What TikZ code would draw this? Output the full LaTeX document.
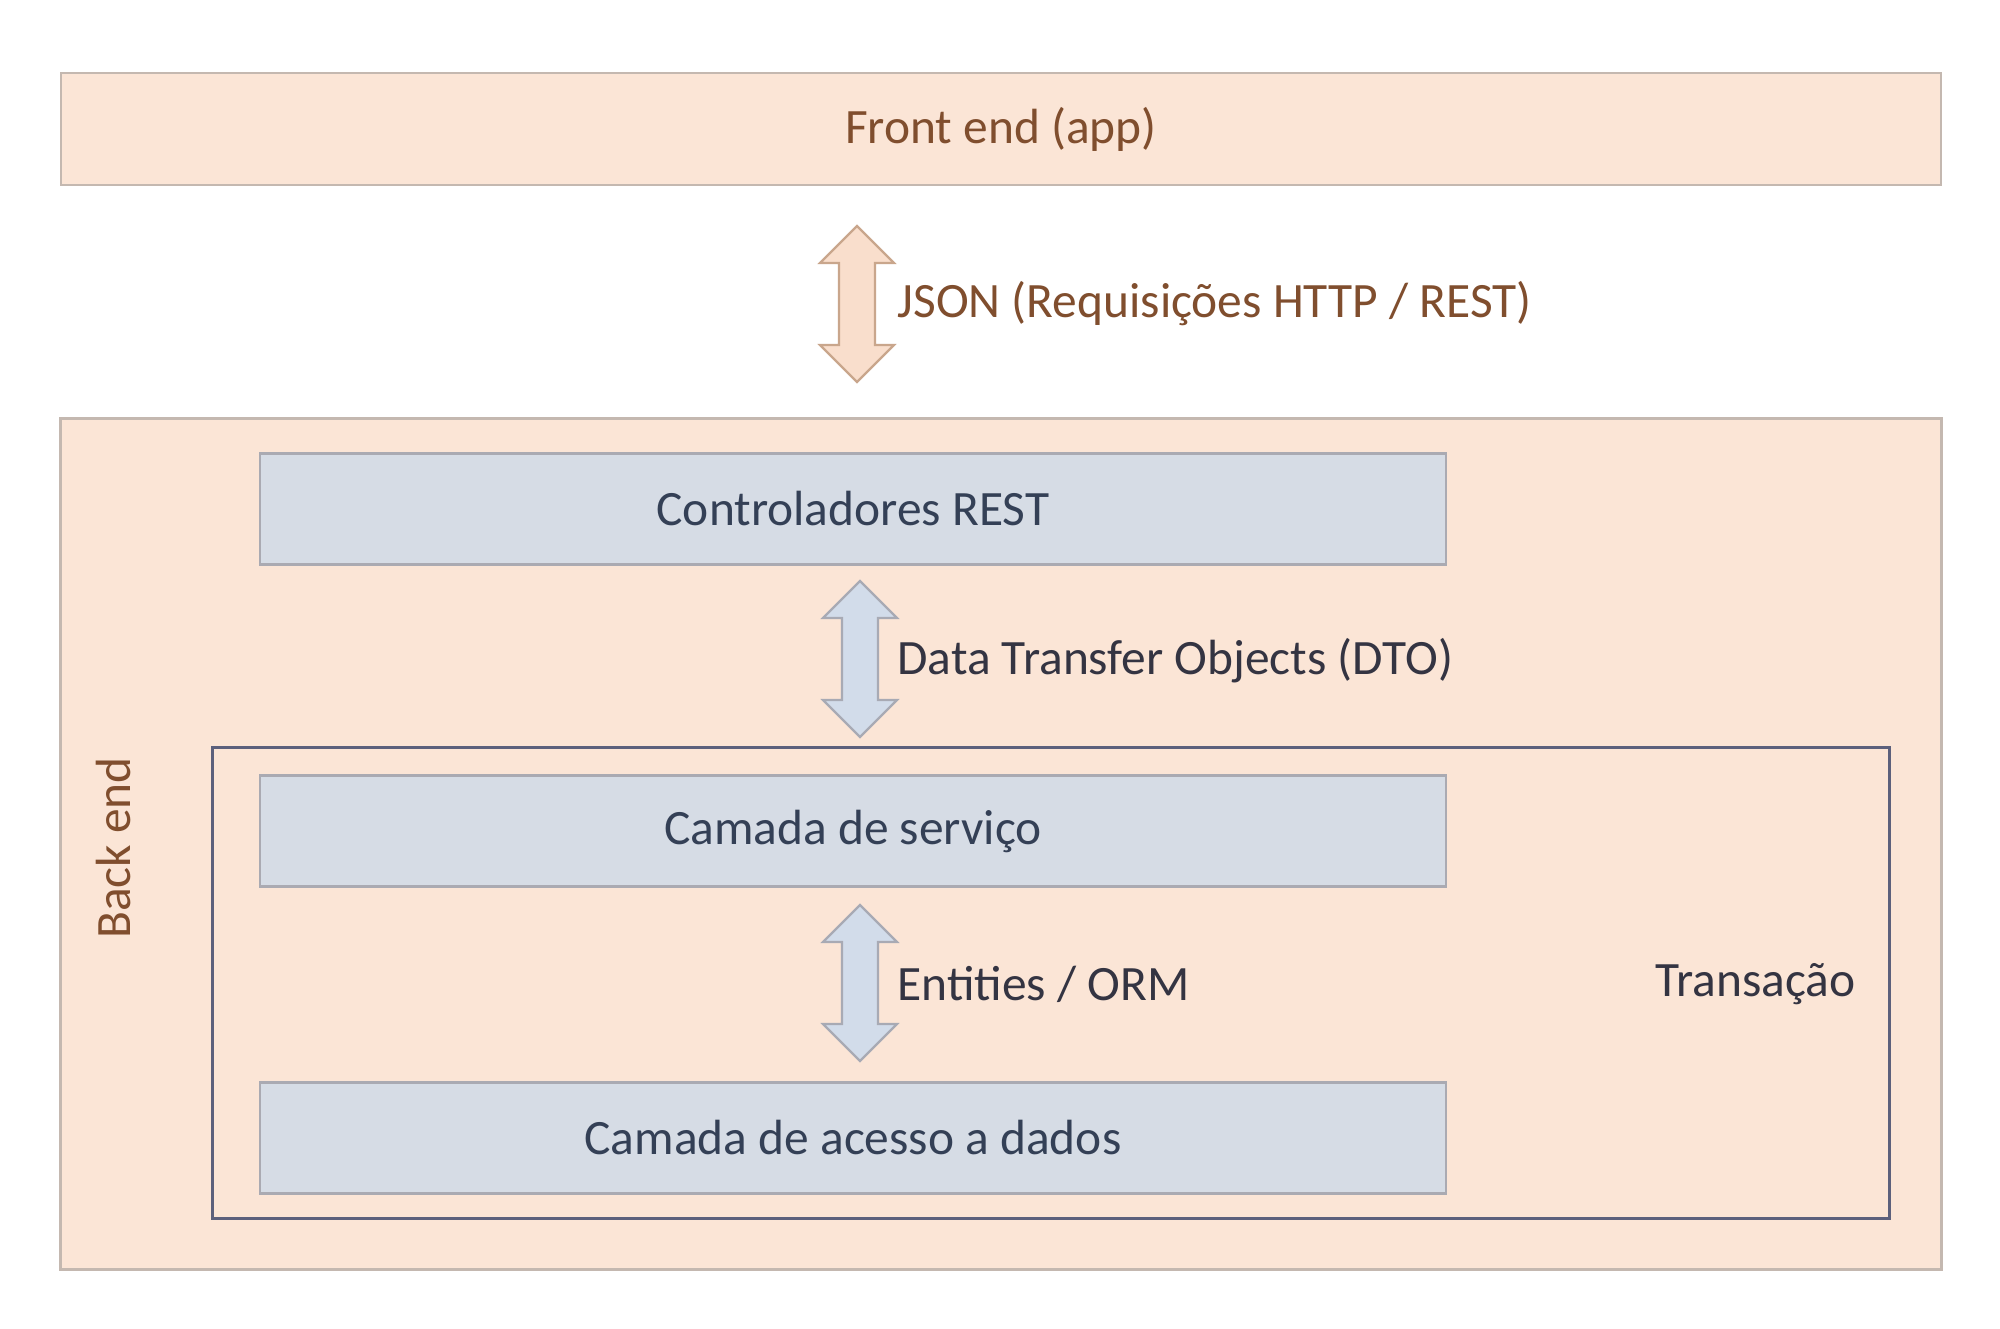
\documentclass[tikz,border=0pt]{standalone}
\usepackage{fontspec}
\setmainfont{Carlito}
\usetikzlibrary{calc}
\definecolor{peach}{RGB}{251,229,214}
\definecolor{peachline}{RGB}{196,184,176}
\definecolor{bluebox}{RGB}{214,220,229}
\definecolor{blueline}{RGB}{170,170,178}
\definecolor{browntext}{RGB}{128,78,46}
\definecolor{navytext}{RGB}{52,64,86}
\definecolor{darktext}{RGB}{52,52,66}
\definecolor{transline}{RGB}{92,96,124}
\definecolor{peacharrow}{RGB}{249,222,204}
\definecolor{peacharrowline}{RGB}{201,166,140}
\definecolor{bluearrow}{RGB}{210,220,234}
\definecolor{bluearrowline}{RGB}{168,170,180}
\begin{document}
\begin{tikzpicture}[x=0.36pt,y=-0.36pt,
  txt/.style={font=\fontsize{17.8}{21}\selectfont},
  peachbox/.style={draw=peachline,fill=peach,line width=1pt,rectangle,inner sep=0pt},
  layerbox/.style={draw=blueline,fill=bluebox,line width=1pt,rectangle,inner sep=0pt,
     minimum width=1186*0.36pt,minimum height=111*0.36pt,text=navytext,txt},
  transbox/.style={draw=transline,line width=1.1pt,rectangle,inner sep=0pt},
  lbl/.style={txt,inner sep=0pt,anchor=west},
  peacharr/.style={draw=peacharrowline,fill=peacharrow,line width=0.8pt,line join=miter},
  bluearr/.style={draw=bluearrowline,fill=bluearrow,line width=0.8pt,line join=miter}]
\useasboundingbox[fill=white] (0,0) rectangle (2000,1329);

% Front end
\node[peachbox,minimum width=1880*0.36pt,minimum height=112*0.36pt,text=browntext,txt]
  (front) at (1001,129) {Front end (app)};

% Back end
\node[peachbox,minimum width=1881*0.36pt,minimum height=851*0.36pt] (back) at (1001,844) {};
\node[rotate=90,text=browntext,txt,inner sep=0pt] (backlbl) at (114,848) {Back end};

% Transaction frame
\node[transbox,minimum width=1677*0.36pt,minimum height=471*0.36pt] (trans) at (1051,983) {};
\node[txt,text=darktext,inner sep=0pt,anchor=east] (translbl) at (1856,984) {Transação};

% Layers
\node[layerbox] (ctrl) at (853,509) {Controladores REST};
\node[layerbox] (svc) at (853,831) {Camada de serviço};
\node[layerbox] (dao) at (853,1138) {Camada de acesso a dados};

% Arrow centres
\coordinate (a1) at (857,304);
\coordinate (a2) at (860,659);
\coordinate (a3) at (860,983);

\draw[peacharr] (a1) ++(0,-78) -- ++(37,37) -- ++(-19,0) -- ++(0,82) -- ++(19,0)
  -- ++(-37,37) -- ++(-37,-37) -- ++(19,0) -- ++(0,-82) -- ++(-19,0) -- cycle;
\draw[bluearr] (a2) ++(0,-78) -- ++(37,37) -- ++(-19,0) -- ++(0,82) -- ++(19,0)
  -- ++(-37,37) -- ++(-37,-37) -- ++(19,0) -- ++(0,-82) -- ++(-19,0) -- cycle;
\draw[bluearr] (a3) ++(0,-78) -- ++(37,37) -- ++(-19,0) -- ++(0,82) -- ++(19,0)
  -- ++(-37,37) -- ++(-37,-37) -- ++(19,0) -- ++(0,-82) -- ++(-19,0) -- cycle;

\node[lbl,text=browntext] (jsonlbl) at (897,304) {JSON (Requisições HTTP / REST)};
\node[lbl,text=darktext] (dtolbl) at (897,661) {Data Transfer Objects (DTO)};
\node[lbl,text=darktext] (entlbl) at (897,984) {Entities / ORM};
\end{tikzpicture}
\end{document}
